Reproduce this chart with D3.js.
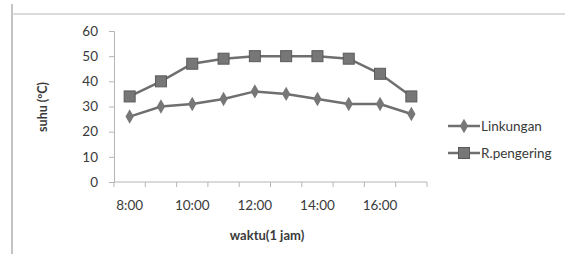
<!DOCTYPE html>
<html>
<head>
<meta charset="utf-8">
<script src="https://cdn.jsdelivr.net/npm/d3@7"></script>
<style>
  body { margin: 0; background: #fff; }
  svg { display: block; }
  text { font-family: Lato, "Open Sans", sans-serif; fill: #3a3a3a; }
</style>
</head>
<body>
<div class="canva"></div>
<script>
// data
const jam = ['8:00', '9:00', '10:00', '11:00', '12:00', '13:00', '14:00', '15:00', '16:00', '17:00'];
const linkungan = [26, 30, 31, 33, 36, 35, 33, 31, 31, 27];
const pengering = [34, 40, 47, 49, 50, 50, 50, 49, 43, 34];
const yTicks = [0, 10, 20, 30, 40, 50, 60];
const xLabels = ['8:00', '10:00', '12:00', '14:00', '16:00'];

const W = 565, H = 257;
const svg = d3.select('.canva').append('svg')
  .attr('width', W)
  .attr('height', H);

// frame lines (page border)
svg.append('line').attr('x1', 12).attr('x2', 12).attr('y1', 4).attr('y2', 254)
  .attr('stroke', '#c4c4c4').attr('stroke-width', 2);
svg.append('line').attr('x1', 12).attr('x2', W).attr('y1', 14).attr('y2', 14)
  .attr('stroke', '#cfcfcf').attr('stroke-width', 1.5);

const plot = { left: 114, right: 427, top: 31, bottom: 182 };

const x = d3.scaleBand().domain(jam).range([plot.left, plot.right]);
const y = d3.scaleLinear().domain([0, 60]).range([plot.bottom, plot.top]);

// y axis
const yAxis = svg.append('g')
  .attr('transform', `translate(${plot.left},0)`)
  .call(d3.axisLeft(y).tickValues(yTicks).tickSize(5).tickPadding(11));
yAxis.select('.domain').attr('stroke', '#b5b5b5');
yAxis.selectAll('.tick line').attr('stroke', '#b5b5b5');
yAxis.selectAll('text').style('font-size', '13.5px').attr('fill', '#3a3a3a');

// x axis: ticks at category boundaries
const xAxis = svg.append('g').attr('transform', `translate(0,${plot.bottom})`);
xAxis.append('line').attr('x1', plot.left).attr('x2', plot.right)
  .attr('stroke', '#b5b5b5');
xAxis.selectAll('.bnd')
  .data(jam.concat(['end']))
  .enter().append('line')
  .attr('x1', (d, i) => i < jam.length ? x(d) : x(jam[jam.length - 1]) + x.bandwidth())
  .attr('x2', (d, i) => i < jam.length ? x(d) : x(jam[jam.length - 1]) + x.bandwidth())
  .attr('y1', 0).attr('y2', 5)
  .attr('stroke', '#b5b5b5');
xAxis.selectAll('.lbl')
  .data(xLabels)
  .enter().append('text')
  .attr('x', d => x(d) + x.bandwidth() / 2)
  .attr('y', 28)
  .attr('text-anchor', 'middle')
  .style('font-size', '13.5px')
  .text(d => d);

// axis titles
svg.append('text')
  .attr('transform', 'translate(47,107) rotate(-90)')
  .attr('text-anchor', 'middle')
  .style('font-size', '12.5px').style('font-weight', 'bold')
  .text('suhu (ºC)');
svg.append('text')
  .attr('x', 267).attr('y', 240)
  .attr('text-anchor', 'middle')
  .style('font-size', '13px').style('font-weight', 'bold')
  .text('waktu(1 jam)');

const line = d3.line()
  .x((d, i) => x(jam[i]) + x.bandwidth() / 2)
  .y(d => y(d));

const lineCol = '#6f6f6f';
const markCol = '#777';

// R.pengering
svg.append('path').datum(pengering).attr('d', line)
  .attr('fill', 'none').attr('stroke', lineCol).attr('stroke-width', 2.5);
svg.selectAll('.sq')
  .data(pengering)
  .enter().append('rect')
  .attr('x', (d, i) => x(jam[i]) + x.bandwidth() / 2 - 5.5)
  .attr('y', d => y(d) - 5.5)
  .attr('width', 11).attr('height', 11)
  .attr('fill', markCol).attr('stroke', '#5a5a5a').attr('stroke-width', 1);

// Linkungan
svg.append('path').datum(linkungan).attr('d', line)
  .attr('fill', 'none').attr('stroke', lineCol).attr('stroke-width', 2.5);
const diamond = d3.symbol().type(d3.symbolDiamond).size(60);
svg.selectAll('.dm')
  .data(linkungan)
  .enter().append('path')
  .attr('d', diamond)
  .attr('transform', (d, i) => `translate(${x(jam[i]) + x.bandwidth() / 2},${y(d)})`)
  .attr('fill', markCol);

// legend
const legend = [
  { name: 'Linkungan', shape: 'diamond' },
  { name: 'R.pengering', shape: 'square' }
];
const lg = svg.selectAll('.lg').data(legend).enter().append('g')
  .attr('transform', (d, i) => `translate(448,${126 + i * 27})`);
lg.append('line').attr('x1', 0).attr('x2', 32).attr('y1', 0).attr('y2', 0)
  .attr('stroke', lineCol).attr('stroke-width', 2.5);
lg.filter(d => d.shape === 'diamond').append('path')
  .attr('d', diamond).attr('transform', 'translate(16,0)').attr('fill', markCol);
lg.filter(d => d.shape === 'square').append('rect')
  .attr('x', 10.5).attr('y', -5.5).attr('width', 11).attr('height', 11)
  .attr('fill', markCol).attr('stroke', '#5a5a5a');
lg.append('text').attr('x', 33).attr('y', 4.5)
  .style('font-size', '13.5px')
  .text(d => d.name);
</script>
</body>
</html>
